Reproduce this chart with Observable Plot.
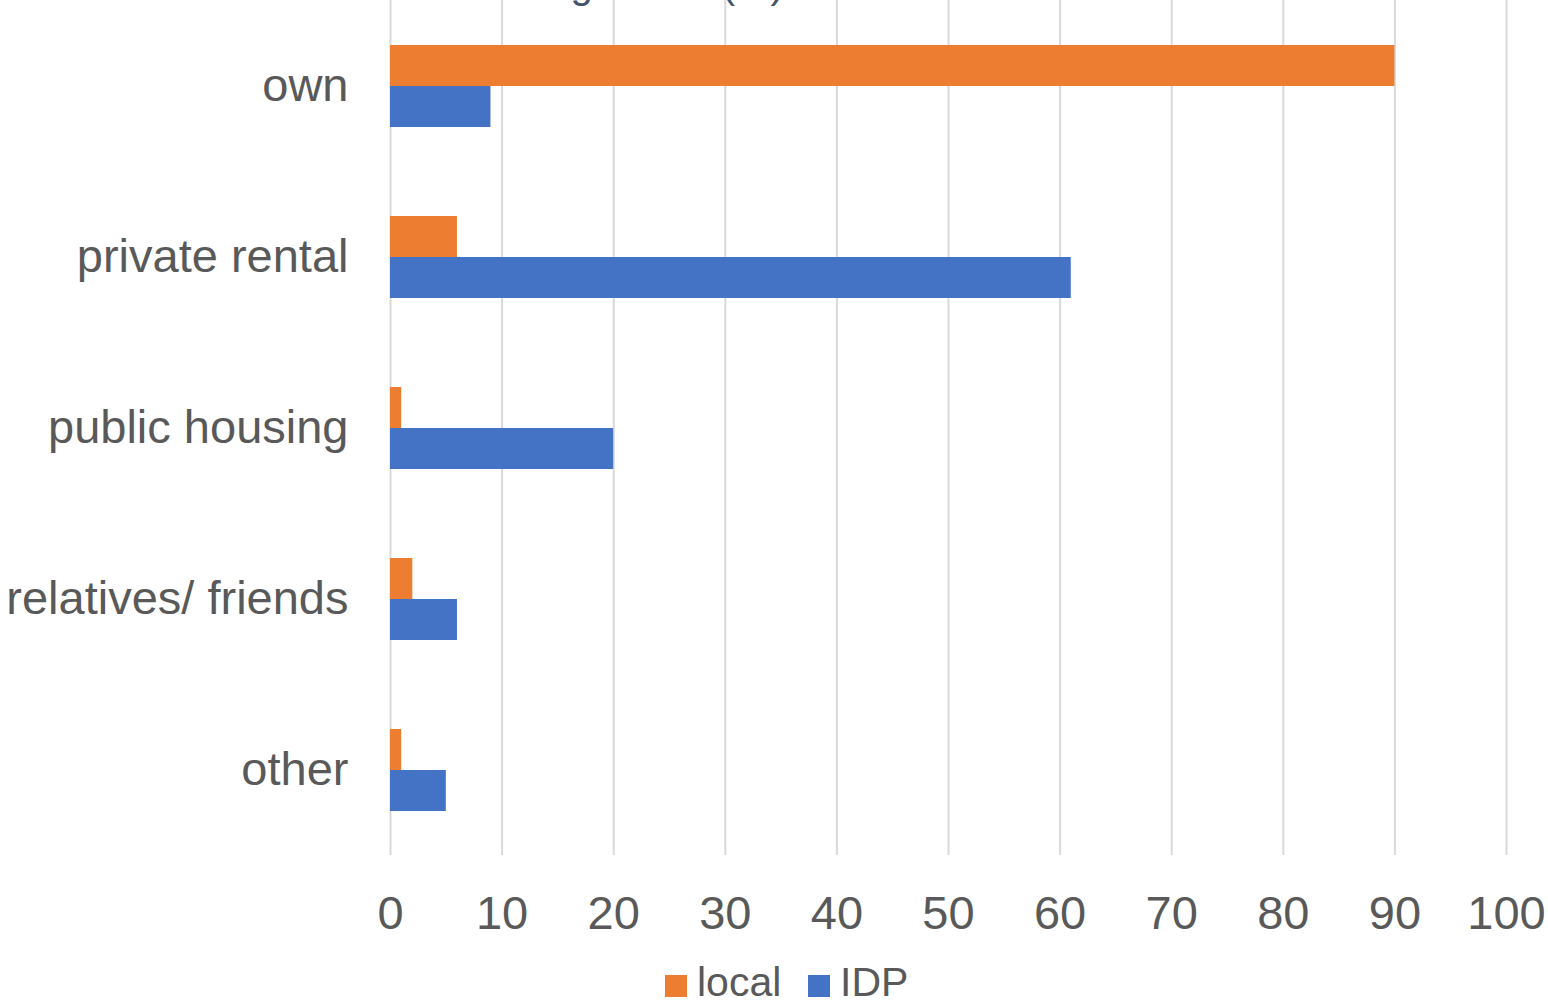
<!DOCTYPE html>
<html>
<head>
<meta charset="utf-8">
<script src="https://cdn.jsdelivr.net/npm/d3@7"></script>
<script src="https://cdn.jsdelivr.net/npm/@observablehq/plot@0.6"></script>
<style>
  html, body { margin: 0; padding: 0; background: #fff; overflow: hidden; }
  #wrap { position: relative; width: 1548px; height: 1005px; overflow: hidden; font-family: "Liberation Sans", Arial, sans-serif; }
  #title { position: absolute; left: 446px; top: -36px; font-size: 40px; line-height: 40px; color: #44546A; white-space: nowrap; }
  #chart { position: absolute; left: 0; top: 0; }
  .lg-sq { position: absolute; width: 22px; height: 22px; top: 975px; }
  .lg-tx { position: absolute; top: 962px; font-size: 41px; line-height: 41px; color: #595959; white-space: nowrap; }
</style>
</head>
<body>
<div id="wrap">
  <div id="chart"></div>
  <div id="title">Housing status (%)</div>
  <div id="legend"></div>
</div>
<script>
const categories = ["own", "private rental", "public housing", "relatives/ friends", "other"];
const series = ["local", "IDP"];
const localValues = [90, 6, 1, 2, 1];
const idpValues = [9, 61, 20, 6, 5];
const xTicks = [0, 10, 20, 30, 40, 50, 60, 70, 80, 90, 100];
const seriesColors = ["#ED7D31", "#4472C4"];

const data = categories.flatMap((c, i) => [
  {category: c, series: "local", value: localValues[i]},
  {category: c, series: "IDP", value: idpValues[i]}
]);

const chart = Plot.plot({
  width: 1548,
  height: 955,
  marginLeft: 390,
  marginRight: 42,
  marginTop: 0,
  marginBottom: 100,
  style: {fontFamily: "'Liberation Sans', Arial, sans-serif", fontSize: "47px", color: "#595959", background: "transparent"},
  x: {domain: [0, 100]},
  y: {domain: series, paddingInner: 0, paddingOuter: 1.05, axis: null},
  fy: {domain: categories, padding: 0, axis: null},
  color: {domain: series, range: seriesColors},
  marks: [
    Plot.gridX(xTicks, {stroke: "#d9d9d9", strokeOpacity: 1, strokeWidth: 2}),
    Plot.barX(data, {x: "value", y: "series", fy: "category", fill: "series"}),
    Plot.axisX(xTicks, {tickSize: 0, tickPadding: 40, fontSize: 47, label: null, fill: "#595959"}),
    Plot.axisFy({anchor: "left", tickSize: 0, tickPadding: 42, fontSize: 47, label: null, fill: "#595959"})
  ]
});
document.getElementById("chart").appendChild(chart);

const legend = document.getElementById("legend");
const legendPos = [{sq: 665, tx: 697}, {sq: 808, tx: 840}];
series.forEach((s, i) => {
  const sq = document.createElement("div");
  sq.className = "lg-sq";
  sq.style.left = legendPos[i].sq + "px";
  sq.style.background = seriesColors[i];
  legend.appendChild(sq);
  const tx = document.createElement("div");
  tx.className = "lg-tx";
  tx.style.left = legendPos[i].tx + "px";
  tx.textContent = s;
  legend.appendChild(tx);
});
</script>
</body>
</html>
